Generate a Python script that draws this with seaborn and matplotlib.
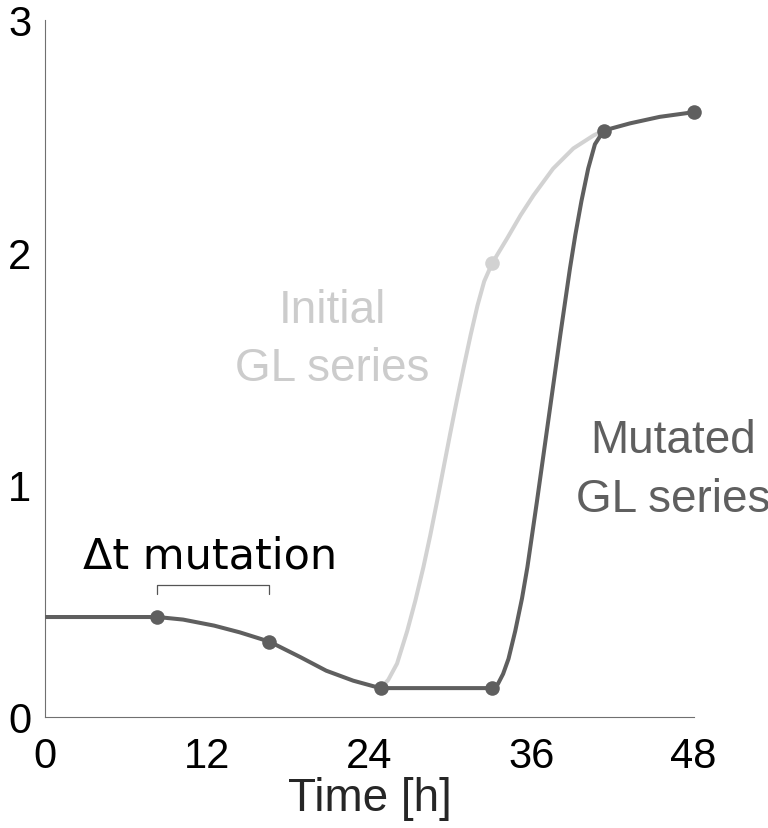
import matplotlib
matplotlib.use("Agg")
import matplotlib.pyplot as plt
import seaborn as sns
import pandas as pd

# ---- data ----
mutated_t = [0, 8.3, 10.2, 12.5, 14.4, 16.6, 18.9, 20.8, 22.8, 24.3, 24.85,
             33.1, 33.5, 33.9, 34.3, 34.8, 35.3, 35.7, 36.05, 36.4, 36.75, 37.1, 37.45,
             37.8, 38.15, 38.5, 38.85, 39.25, 39.7, 40.2, 40.7, 41.35, 43.3, 45.5, 48]
mutated_v = [0.43, 0.43, 0.419, 0.393, 0.364, 0.324, 0.257, 0.199, 0.156, 0.132, 0.124,
             0.124, 0.14, 0.185, 0.25, 0.37, 0.51, 0.645, 0.785, 0.925, 1.07, 1.215, 1.36,
             1.505, 1.65, 1.79, 1.93, 2.075, 2.22, 2.36, 2.465, 2.524, 2.555, 2.583, 2.603]

initial_t = [24.85, 25.4, 26.05, 26.8, 27.4, 28.0, 28.5, 29.0, 29.5, 30.0, 30.5,
             31.0, 31.5, 32.0, 32.5, 33.1, 34.2, 35.2, 36.15, 37.6, 39.1, 40.6, 41.35]
initial_v = [0.124, 0.16, 0.23, 0.37, 0.50, 0.645, 0.78, 0.925, 1.075, 1.225, 1.37,
             1.51, 1.645, 1.77, 1.875, 1.954, 2.06, 2.16, 2.245, 2.36, 2.447, 2.503, 2.524]

mutated_pts_t = [8.3, 16.6, 24.85, 33.1, 41.35, 48]
mutated_pts_v = [0.43, 0.324, 0.124, 0.124, 2.524, 2.603]
initial_pts_t = [33.1]
initial_pts_v = [1.954]

mutation_window = [8.3, 16.6]

x_ticks = [0, 12, 24, 36, 48]
y_ticks = [0, 1, 2, 3]

DARK = "#5f5f5f"
LIGHT = "#d2d2d2"

sns.set_theme(style="white")
plt.rcParams['font.family'] = ['Liberation Sans', 'DejaVu Sans']

fig = plt.figure(figsize=(7.68, 8.29), dpi=100)
ax = fig.add_axes([0.059, 0.134, 0.844, 0.8407])

df_init = pd.DataFrame({"t": initial_t, "v": initial_v})
df_mut = pd.DataFrame({"t": mutated_t, "v": mutated_v})

sns.lineplot(data=df_init, x="t", y="v", sort=False, estimator=None, color=LIGHT,
             linewidth=2.9, ax=ax, zorder=2)
sns.scatterplot(x=initial_pts_t, y=initial_pts_v, color=LIGHT, s=110, edgecolor=LIGHT,
                linewidth=0, ax=ax, zorder=3, clip_on=False)
sns.lineplot(data=df_mut, x="t", y="v", sort=False, estimator=None, color=DARK,
             linewidth=2.9, ax=ax, zorder=4)
sns.scatterplot(x=mutated_pts_t, y=mutated_pts_v, color=DARK, s=110, edgecolor=DARK,
                linewidth=0, ax=ax, zorder=5, clip_on=False)

# bracket for mutation window
ax.plot([mutation_window[0], mutation_window[0], mutation_window[1], mutation_window[1]],
        [0.53, 0.567, 0.567, 0.53], color="#555555", linewidth=0.9, zorder=3)

ax.text(12.2, 0.645, "Δt mutation", ha="center", va="baseline", fontsize=31,
        family=["DejaVu Sans"], color="black")
ax.text(21.24, 1.702, "Initial", ha="center", va="baseline", fontsize=33, color="#cccccc")
ax.text(21.24, 1.452, "GL series", ha="center", va="baseline", fontsize=33, color="#cccccc")
ax.text(46.5, 1.141, "Mutated", ha="center", va="baseline", fontsize=33, color=DARK, clip_on=False)
ax.text(46.5, 0.887, "GL series", ha="center", va="baseline", fontsize=33, color=DARK, clip_on=False)

ax.set_xlim(0, 48)
ax.set_ylim(0, 3)
ax.set_xticks(x_ticks)
ax.set_yticks(y_ticks)
ax.set_xticklabels([str(v) for v in x_ticks])
ax.set_yticklabels([str(v) for v in y_ticks])
ax.set_xlabel("Time [h]", fontsize=33, labelpad=0)
ax.set_ylabel("")

for s in ["top", "right"]:
    ax.spines[s].set_visible(False)
for s in ["left", "bottom"]:
    ax.spines[s].set_color("#707070")
    ax.spines[s].set_linewidth(0.8)

ax.tick_params(axis="both", direction="in", length=5, width=0.8, color="#707070",
               labelsize=30, labelcolor="black")
ax.tick_params(axis="y", pad=10)
ax.tick_params(axis="x", pad=14)
ax.grid(False)

fig.savefig("out.png", dpi=100)
